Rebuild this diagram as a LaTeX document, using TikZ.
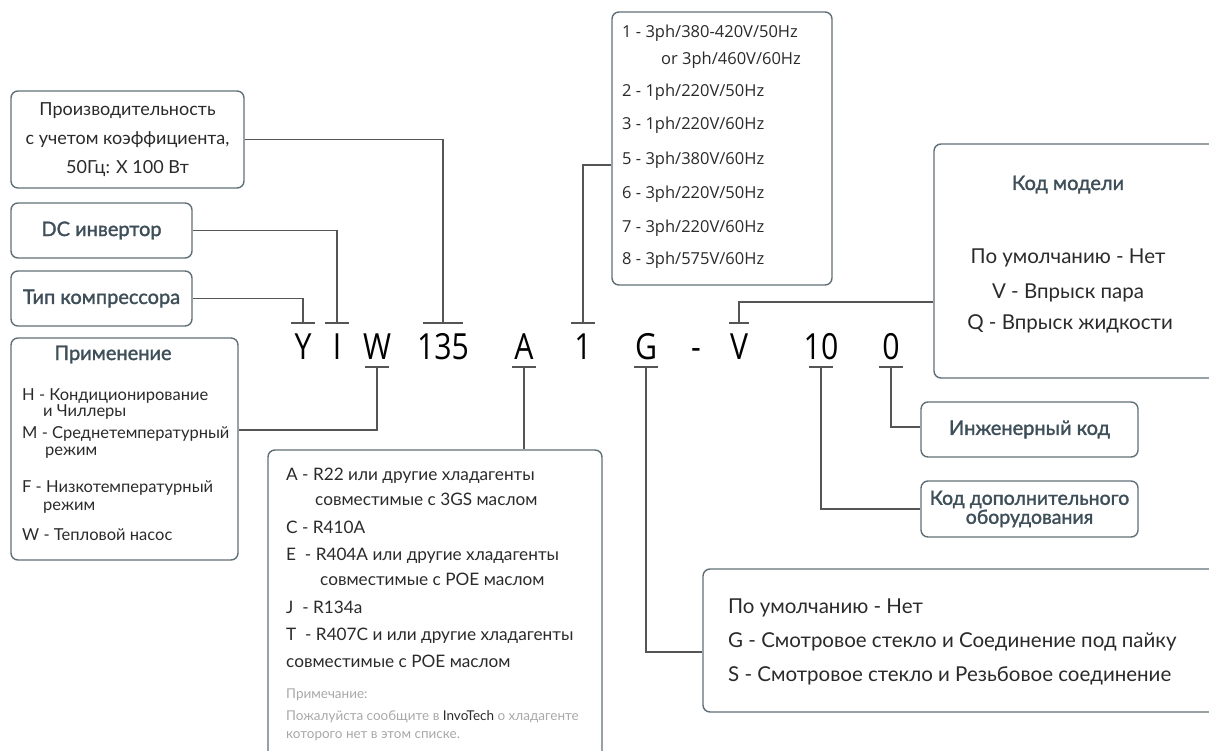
\documentclass[tikz,border=0pt]{standalone}
\usepackage{fontspec}
\setmainfont{Lato}
\newfontfamily\codefont{Open Sans}
\newfontfamily\headfont{Lato}[FakeBold=1.6]
\usetikzlibrary{positioning, calc}
\definecolor{mSlate}{HTML}{3E4F59}
\definecolor{mFrame}{HTML}{5F6E77}
\definecolor{mWire}{HTML}{555555}
\definecolor{mText}{HTML}{2A2A2A}
\definecolor{mNote}{HTML}{A8A8A8}

\begin{document}
\begin{tikzpicture}[x=1pt, y=-1pt,
      box/.style={draw=mFrame, line width=1.4pt, rounded corners=7pt, inner sep=0pt},
      hd/.style={text=mSlate, font=\headfont\fontsize{20}{20}\selectfont},
      tx/.style={text=mText, anchor=base west, inner sep=0pt},
      sm/.style={tx, font=\fontsize{16.5}{16.5}\selectfont},
      md/.style={tx, font=\fontsize{17.2}{17.2}\selectfont},
      lg/.style={tx, font=\fontsize{20.5}{20.5}\selectfont},
      vt/.style={tx, font=\codefont\fontsize{16.5}{16.5}\selectfont},
      nt/.style={tx, text=mNote, font=\fontsize{13.5}{13.5}\selectfont},
      cd/.style={anchor=base, inner sep=0pt, font=\codefont\fontsize{36}{36}\selectfont},
      wire/.style={draw=mWire, line width=1.1pt}]
    \useasboundingbox (0,0) rectangle (1209,751);

    % boxes
    \node[box, minimum width=233pt, minimum height=97pt, align=center, text=mText,
          font=\fontsize{18}{29}\selectfont] (perf) at (127.5,139.5)
          {Производительность\\с учетом коэффициента,\\50Гц: X 100 Вт};
    \node[box, hd, minimum width=181pt, minimum height=55pt] (dc)  at (101.5,230.5) {DC инвертор};
    \node[box, hd, minimum width=181pt, minimum height=55pt] (typ) at (101.5,298.5) {Тип компрессора};
    \node[box, minimum width=227pt, minimum height=222pt] (app)   at (124.5,449) {};
    \node[box, minimum width=334pt, minimum height=320pt] (refr)  at (435,610) {};
    \node[box, minimum width=220pt, minimum height=273pt] (volt)  at (722,148.5) {};
    \node[box, minimum width=291pt, minimum height=234pt] (model) at (1079.5,261) {};
    \node[box, hd, minimum width=217pt, minimum height=55pt] (eng) at (1029.5,429.5) {Инженерный код};
    \node[box, hd, minimum width=217pt, minimum height=56pt, align=center,
          font=\headfont\fontsize{19.5}{19}\selectfont] (opt) at (1029.5,509)
          {Код дополнительного\\оборудования};
    \node[box, minimum width=522pt, minimum height=143pt] (conn)  at (964,640.5) {};

    % model code
    \foreach \n/\s/\x in {Y/Y/303, I/I/337, W/W/377, 135/135/443, A/A/524, 1/1/583,
                          G/G/646, d/-/696, V/V/739, 10/10/821, 0/0/891}
      \node[cd] (c\n) at (\x,359) {\scalebox{0.84}[1]{\s}};
    \foreach \n/\w in {Y/12, I/12, 135/20, 1/12, V/10} {
      \coordinate (t\n) at ($(c\n.base)+(0,-36)$);
      \draw[wire] ([xshift=-\w pt]t\n) -- ([xshift=\w pt]t\n);
    }
    \foreach \n/\w in {W/12, A/12, G/12, 10/12, 0/12} {
      \coordinate (b\n) at ($(c\n.base)+(0,8)$);
      \draw[wire] ([xshift=-\w pt]b\n) -- ([xshift=\w pt]b\n);
    }

    \draw[wire] (typ.east) -| (tY);
    \draw[wire] (dc.east) -| (tI);
    \draw[wire] (perf.east) -| (t135);
    \draw[wire] (t1) |- ([yshift=-16.5pt]volt.west);
    \draw[wire] (tV) |- ([yshift=-41pt]model.west);
    \draw[wire] (bW) |- ([yshift=19pt]app.east);
    \draw[wire] (bA) -- (bA |- refr.north);
    \draw[wire] (bG) |- ([yshift=-11.5pt]conn.west);
    \draw[wire] (b10) |- (opt.west);
    \draw[wire] (b0) |- ([yshift=2.5pt]eng.west);

    % application
    \node[hd, anchor=base] (appT) at (113,360) {Применение};
    \node[sm] (a1) at (22,400) {H - Кондиционирование};
    \node[sm] (a2) at (43,416) {и Чиллеры};
    \node[sm] (a3) at (22,438) {M - Среднетемпературный};
    \node[sm] (a4) at (45,455) {режим};
    \node[sm] (a5) at (22,492) {F - Низкотемпературный};
    \node[sm] (a6) at (43,510) {режим};
    \node[sm] (a7) at (22,540) {W - Тепловой насос};

    % refrigerant
    \node[md] (r1) at (286,480) {A - R22 или другие хладагенты};
    \node[md] (r2) at (315,505) {совместимые с 3GS маслом};
    \node[md] (r3) at (286,533) {C - R410A};
    \node[md] (r4) at (286,560) {E \ - R404A или другие хладагенты};
    \node[md] (r5) at (320,585) {совместимые с POE маслом};
    \node[md] (r6) at (286,613) {J \ - R134a};
    \node[md] (r7) at (286,640) {T \ - R407C и или другие хладагенты};
    \node[md] (r8) at (286,667) {совместимые с POE маслом};
    \node[nt] (n1) at (286,698) {Примечание:};
    \node[nt] (n2) at (286,720) {Пожалуйста сообщите в \textcolor{mText}{InvoTech} о хладагенте};
    \node[nt] (n3) at (286,738) {которого нет в этом списке.};

    % voltage
    \node[vt] (v1) at (622,38)  {1 - 3ph/380-420V/50Hz};
    \node[vt] (v2) at (661,65)  {or 3ph/460V/60Hz};
    \node[vt] (v3) at (622,97)  {2 - 1ph/220V/50Hz};
    \node[vt] (v4) at (622,130) {3 - 1ph/220V/60Hz};
    \node[vt] (v5) at (622,165) {5 - 3ph/380V/60Hz};
    \node[vt] (v6) at (622,199) {6 - 3ph/220V/50Hz};
    \node[vt] (v7) at (622,233) {7 - 3ph/220V/60Hz};
    \node[vt] (v8) at (622,265) {8 - 3ph/575V/60Hz};

    % model
    \node[hd, anchor=base] (mT) at (1068,190) {Код модели};
    \node[lg, anchor=base] (m1) at (1068,263) {По умолчанию - Нет};
    \node[lg, anchor=base] (m2) at (1068,298) {V - Впрыск пара};
    \node[lg, anchor=base] (m3) at (1070,329) {Q - Впрыск жидкости};

    % connection
    \node[lg] (g1) at (728,613) {По умолчанию - Нет};
    \node[lg] (g2) at (728,647) {G - Смотровое стекло и Соединение под пайку};
    \node[lg] (g3) at (728,681) {S - Смотровое стекло и Резьбовое соединение};
  \end{tikzpicture}
\end{document}
